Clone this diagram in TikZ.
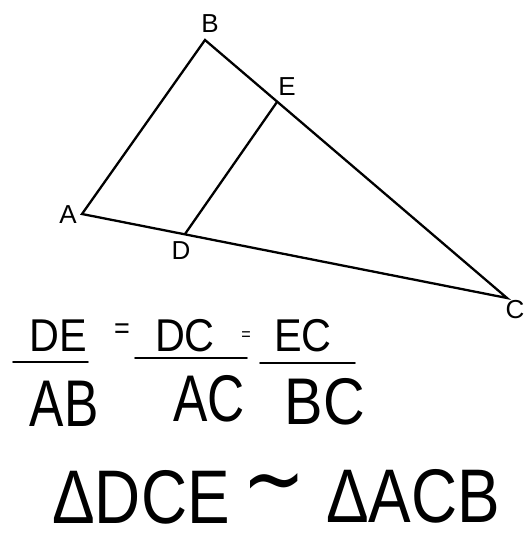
\documentclass[tikz,border=0pt]{standalone}
\usepackage{fontspec}
\setmainfont{Liberation Sans}
\newfontfamily\symfont{DejaVu Sans}
\begin{document}
\begin{tikzpicture}[x=1pt, y=-1pt, line width=2.3pt, line cap=round, lbl/.style={font=\fontsize{26}{26}\selectfont, inner sep=0pt}, num/.style={font=\fontsize{46}{46}\selectfont, inner sep=0pt, xscale=.9, transform shape}, den/.style={font=\fontsize{66}{66}\selectfont, inner sep=0pt, xscale=.78, transform shape}, big/.style={font=\fontsize{76}{76}\selectfont, inner sep=0pt, xscale=.84, transform shape}]
	\useasboundingbox (0,0) rectangle (524,540);
	% triangle
	\coordinate (A) at (82,214);
	\coordinate (B) at (205,40);
	\coordinate (C) at (507,298);
	\coordinate (D) at (185,234);
	\coordinate (E) at (277,102);
	\draw (A) -- (B) -- (C) -- cycle;
	\draw (D) -- (E);
	\foreach \n/\p in {A/{(68,215)}, B/{(210,24)}, C/{(515,310)}, D/{(181,251)}, E/{(287,87)}} {\node[lbl] (l\n) at \p {\n};}
	% ratios
	\node[num] (nDE) at (58,336) {DE};
	\node[den] (dAB) at (64,404) {AB};
	\node[num] (nDC) at (185,336) {DC};
	\node[den] (dAC) at (209,399) {AC};
	\node[num] (nEC) at (303,336) {EC};
	\node[den, xscale=1.12] (dBC) at (325,402) {BC};
	\node[num, font=\fontsize{30}{30}\selectfont] (eq1) at (122,331) {=};
	\node[num, font=\fontsize{18}{18}\selectfont] (eq2) at (246,336) {=};
	\draw[line width=1.8pt] (13,362) -- (88,362);
	\draw[line width=1.8pt] (135,358) -- (247,358);
	\draw[line width=1.8pt] (260,363) -- (355,363);
	% similarity
	\node[big] (tDCE) at (141,497) {ΔDCE};
	\node[big, font=\symfont\fontsize{60}{60}\selectfont, xscale=1.5, yscale=1.5] (sim) at (274,492) {∼};
	\node[big] (tACB) at (413,496) {ΔACB};
\end{tikzpicture}
\end{document}
